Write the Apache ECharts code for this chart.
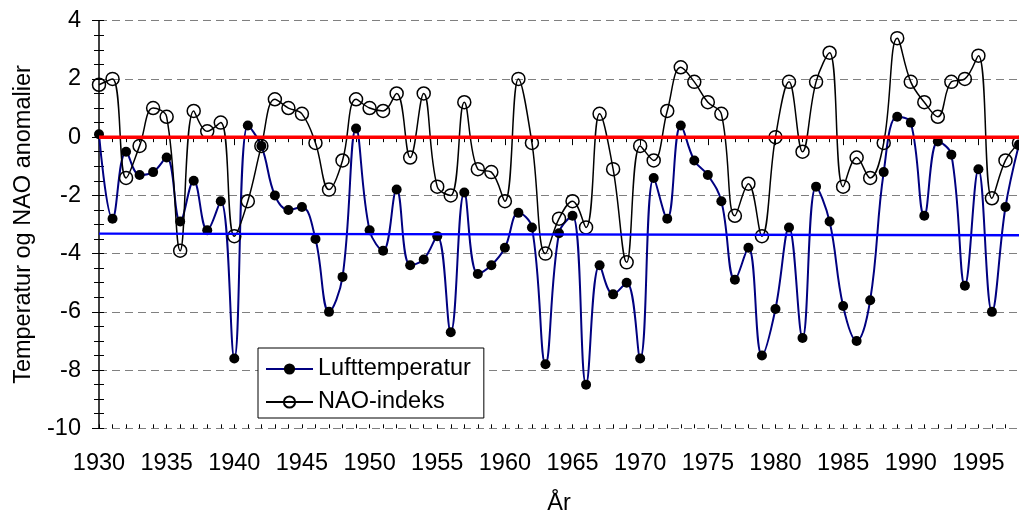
<!DOCTYPE html>
<html>
<head>
<meta charset="utf-8">
<script src="https://cdn.jsdelivr.net/npm/echarts@6/dist/echarts.min.js"></script>
<style>
html,body{margin:0;padding:0;background:#fff;}
#chart{width:1019px;height:513px;}
</style>
</head>
<body>
<div id="chart"></div>
<script>
const years = [];
for (let y = 1930; y <= 1998; y++) years.push(y);

const lufttemperatur = [
  0.1, -2.8, -0.5, -1.3, -1.2, -0.7, -2.9, -1.5, -3.2, -2.2,
  -7.6, 0.4, -0.3, -2.0, -2.5, -2.4, -3.5, -6.0, -4.8, 0.3,
  -3.2, -3.9, -1.8, -4.4, -4.2, -3.4, -6.7, -1.9, -4.7, -4.4,
  -3.8, -2.6, -3.1, -7.8, -3.3, -2.7, -8.5, -4.4, -5.4, -5.0,
  -7.6, -1.4, -2.8, 0.4, -0.8, -1.3, -2.2, -4.9, -3.8, -7.5,
  -5.9, -3.1, -6.9, -1.7, -2.9, -5.8, -7.0, -5.6, -1.2, 0.7,
  0.5, -2.7, -0.15, -0.6, -5.1, -1.1, -6.0, -2.4, -0.25
];

const naoIndeks = [
  1.8, 2.0, -1.4, -0.3, 1.0, 0.7, -3.9, 0.9, 0.2, 0.5,
  -3.4, -2.2, -0.3, 1.3, 1.0, 0.8, -0.2, -1.8, -0.8, 1.3,
  1.0, 0.9, 1.5, -0.7, 1.5, -1.7, -2.0, 1.2, -1.1, -1.2,
  -2.2, 2.0, -0.2, -4.0, -2.8, -2.2, -3.1, 0.8, -1.1, -4.3,
  -0.3, -0.8, 0.9, 2.4, 1.9, 1.2, 0.8, -2.7, -1.6, -3.4,
  0.0, 1.9, -0.5, 1.9, 2.9, -1.7, -0.7, -1.4, -0.2, 3.4,
  1.9, 1.2, 0.7, 1.9, 2.0, 2.8, -2.1, -0.8, -0.2
];

const refYears = [1930, 1998];
const zeroLine = [0, 0];
const trendLine = [-3.31, -3.37];

const yTicks = [-10, -8, -6, -4, -2, 0, 2, 4];
const xLabelYears = [1930, 1935, 1940, 1945, 1950, 1955, 1960, 1965, 1970, 1975, 1980, 1985, 1990, 1995];

const FONT = '"Liberation Sans", Arial, sans-serif';
const FS = 23.5;
const pair = (xs, ys) => xs.map((x, i) => [x, ys[i]]);

const xBase = {type: 'value', min: 1930, max: 1998, position: 'bottom', splitLine: {show: false}};
const yBase = {type: 'value', min: yTicks[0], max: yTicks[yTicks.length - 1], interval: 2, position: 'left'};

const chart = echarts.init(document.getElementById('chart'), null, {renderer: 'canvas'});
chart.setOption({
  animation: false,
  backgroundColor: '#fff',
  textStyle: {fontFamily: FONT},
  grid: {left: 99, right: 0, top: 20.7, bottom: 84.7, containLabel: false, outerBoundsMode: 'none'},
  legend: {
    data: ['Lufttemperatur', 'NAO-indeks'],
    orient: 'vertical',
    left: 258, top: 348,
    padding: [9, 13, 4, 7],
    itemWidth: 47, itemHeight: 14, itemGap: 9,
    backgroundColor: '#fff',
    borderColor: '#000', borderWidth: 1,
    textStyle: {fontFamily: FONT, fontSize: FS, color: '#000'},
    selectedMode: false
  },
  xAxis: [Object.assign({}, xBase, {
    interval: 5,
    name: 'År', nameLocation: 'middle', nameGap: 63,
    nameTextStyle: {fontFamily: FONT, fontSize: FS, color: '#000'},
    axisLine: {lineStyle: {color: '#000', width: 1.5}},
    axisTick: {length: 8, lineStyle: {color: '#000', width: 1}},
    axisLabel: {
      fontFamily: FONT, fontSize: FS, color: '#000', margin: 23,
      formatter: v => (xLabelYears.indexOf(v) >= 0 ? String(v) : '')
    }
  }), Object.assign({}, xBase, {
    interval: 1,
    axisLine: {show: false},
    axisTick: {length: 5, lineStyle: {color: '#000', width: 1}},
    axisLabel: {show: false}
  }), Object.assign({}, xBase, {
    interval: 1,
    axisLine: {show: false},
    axisTick: {inside: true, length: 4, lineStyle: {color: '#000', width: 1}},
    axisLabel: {show: false}
  })],
  yAxis: [Object.assign({}, yBase, {
    name: 'Temperatur og NAO anomalier', nameLocation: 'middle', nameGap: 63,
    nameTextStyle: {fontFamily: FONT, fontSize: FS, color: '#000'},
    axisLine: {show: true, lineStyle: {color: '#000', width: 1.5}},
    axisTick: {show: true, length: 7, lineStyle: {color: '#000'}},
    minorTick: {show: true, splitNumber: 4, length: 5, lineStyle: {color: '#000'}},
    axisLabel: {fontFamily: FONT, fontSize: FS, color: '#000', margin: 18},
    splitLine: {show: true, lineStyle: {color: '#808080', width: 1, type: [8, 5]}}
  }), Object.assign({}, yBase, {
    axisLine: {show: false},
    axisTick: {show: true, inside: true, length: 5, lineStyle: {color: '#000'}},
    minorTick: {show: true, splitNumber: 4, length: 5, lineStyle: {color: '#000'}},
    axisLabel: {show: false},
    splitLine: {show: false}
  })],
  series: [{
    name: 'Lufttemperatur', type: 'line', xAxisIndex: 0, yAxisIndex: 0,
    data: pair(years, lufttemperatur),
    smooth: 0.4,
    symbol: 'circle', symbolSize: 10,
    itemStyle: {color: '#000'},
    lineStyle: {color: '#000080', width: 2},
    z: 3
  }, {
    name: 'NAO-indeks', type: 'line', xAxisIndex: 0, yAxisIndex: 0,
    data: pair(years, naoIndeks),
    smooth: 0.4,
    symbol: 'circle', symbolSize: 13,
    itemStyle: {color: 'rgba(255,255,255,0)', borderColor: '#000', borderWidth: 1.5},
    lineStyle: {color: '#000', width: 1.5},
    z: 4
  }, {
    name: 'zero', type: 'line', xAxisIndex: 0, yAxisIndex: 0,
    data: pair(refYears, zeroLine),
    symbol: 'none', lineStyle: {color: '#ff0000', width: 3.5},
    silent: true, z: 5
  }, {
    name: 'trend', type: 'line', xAxisIndex: 0, yAxisIndex: 0,
    data: pair(refYears, trendLine),
    symbol: 'none', lineStyle: {color: '#0000ff', width: 2.3},
    silent: true, z: 5
  }]
});
</script>
</body>
</html>
